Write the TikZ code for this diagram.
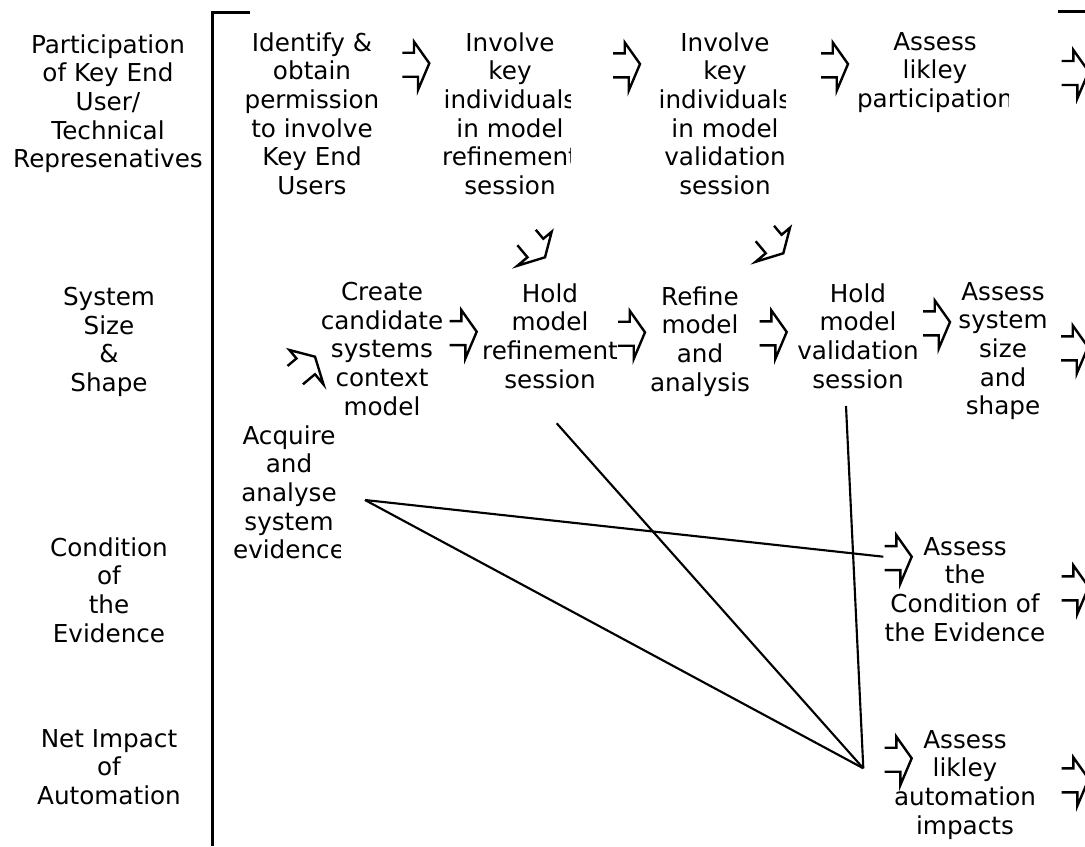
\documentclass[tikz,border=0pt]{standalone}
\usepackage{fontspec}
\setmainfont{DejaVu Sans}
\begin{document}
\begin{tikzpicture}[x=0.75pt,y=-0.75pt,
  txt/.style={font=\fontsize{18.5}{21.5}\selectfont, align=center, anchor=north, inner sep=0pt, execute at begin node=\strut},
  arrowline/.style={line width=1.8pt, line join=miter, line cap=butt},
  conn/.style={line width=1.6pt},
  framel/.style={line width=2pt},
  oarrow/.pic={\draw[arrowline] (-27,-10.6) -- (-15.3,-10.6) -- (-15.3,-21.6) -- (0,0) -- (-11.3,26.7) -- (-11.3,13.4) -- (-27,13.4);}
]
\useasboundingbox (0,0) rectangle (1085,846);
\fill[white] (0,0) rectangle (1085,846);

% left labels
\node[txt] (lab1) at (108,34) {Participation\\of Key End\\User/\\Technical\\Represenatives};
\node[txt] (lab2) at (109,287) {System\\Size\\\&\\Shape};
\node[txt] (lab3) at (109,537) {Condition\\of\\the\\Evidence};
\node[txt] (lab4) at (109,729) {Net Impact\\of\\Automation};

% frame
\coordinate (ftop) at (212.7,12.7);
\coordinate (fbot) at (212.7,846);
\coordinate (ftick) at (250,12.7);
\draw[framel] (ftick) -- (ftop) -- (fbot);
\coordinate (rt1) at (1058,11.7);
\coordinate (rt2) at (1085,11.7);
\draw[framel] (rt1) -- (rt2);

% row 1
\begin{scope}\clip (215,0) rectangle (377,240);
\node[txt] (identify) at (312,32) {Identify \&\\obtain\\permission\\to involve\\Key End\\Users};
\end{scope}
\begin{scope}\clip (435,0) rectangle (570,240);
\node[txt] (invref) at (510,32) {Involve\\key\\individuals\\in model\\refinement\\session};
\end{scope}
\begin{scope}\clip (650,0) rectangle (785,240);
\node[txt] (invval) at (725,32) {Involve\\key\\individuals\\in model\\validation\\session};
\end{scope}
\begin{scope}\clip (850,0) rectangle (1008,240);
\node[txt] (asspart) at (935,32) {Assess\\likley\\participation};
\end{scope}

% row 2
\node[txt] (create) at (382,282) {Create\\candidate\\systems\\context\\model};
\node[txt] (holdref) at (550,283) {Hold\\model\\refinement\\session};
\node[txt] (refine) at (700,286) {Refine\\model\\and\\analysis};
\node[txt] (holdval) at (858,283) {Hold\\model\\validation\\session};
\node[txt] (asssys) at (1003,282) {Assess\\system\\size\\and\\shape};

\begin{scope}\clip (220,400) rectangle (340,600);
\node[txt] (acquire) at (289,425) {Acquire\\and\\analyse\\system\\evidence};
\end{scope}

% rows 3, 4
\node[txt] (asscond) at (965,537) {Assess\\the\\Condition of\\the Evidence};
\node[txt] (assauto) at (965,730) {Assess\\likley\\automation\\impacts};

% connectors
\coordinate (acqR) at (365,500);
\coordinate (hub) at (863.3,768.3);
\coordinate (condIn) at (883.3,556.7);
\coordinate (holdrefB) at (556.7,423.3);
\coordinate (holdvalB) at (846,406);
\draw[conn] (acqR) -- (condIn);
\draw[conn] (acqR) -- (hub);
\draw[conn] (holdrefB) -- (hub);
\draw[conn] (holdvalB) -- (hub);

% open arrows
\pic at (429.3,63.3) {oarrow};
\pic at (640,64) {oarrow};
\pic at (848,64) {oarrow};
\pic at (1088.7,71.6) {oarrow};
\pic[rotate=-50] at (545,257.3) {oarrow};
\pic[rotate=-50] at (783.3,253.3) {oarrow};
\pic[rotate=40] at (315,356.7) {oarrow};
\pic at (476.7,331.7) {oarrow};
\pic at (645,332.3) {oarrow};
\pic at (786.7,332) {oarrow};
\pic at (950,322) {oarrow};
\pic at (1088,347) {oarrow};
\pic at (911.7,556.7) {oarrow};
\pic at (1088.7,587) {oarrow};
\pic at (911.7,758.3) {oarrow};
\pic at (1088.7,779) {oarrow};
\end{tikzpicture}
\end{document}
